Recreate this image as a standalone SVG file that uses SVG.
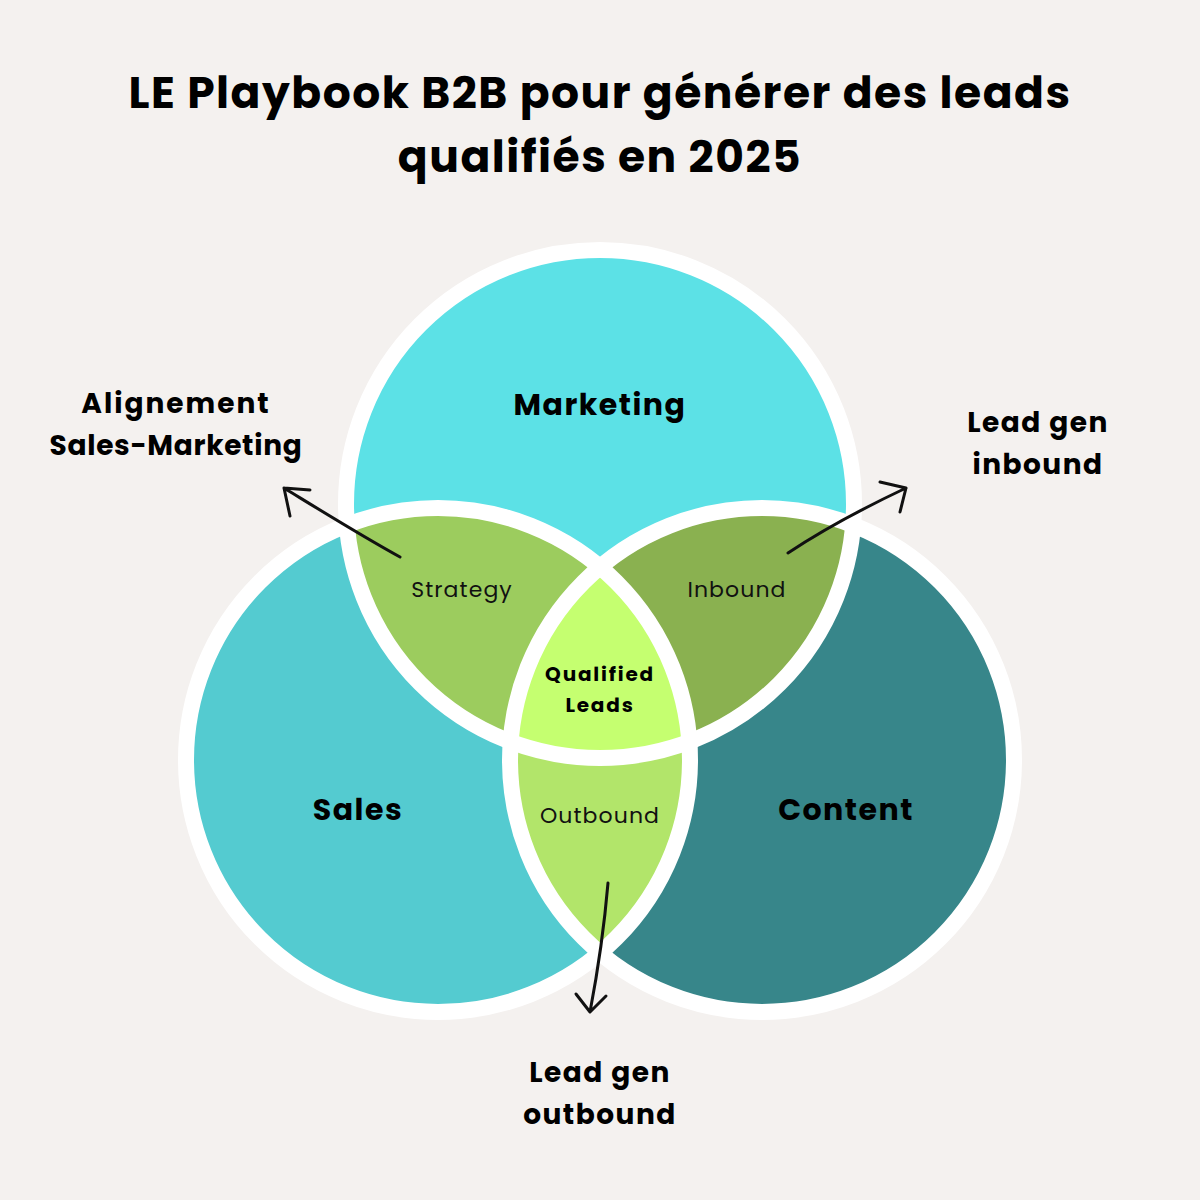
<svg xmlns="http://www.w3.org/2000/svg" width="1200" height="1200" viewBox="0 0 1200 1200">
<style>
.t{font-family:"Poppins","Open Sans","Liberation Sans",sans-serif;font-weight:700;fill:#000;text-anchor:middle;letter-spacing:1.5px}
.r{font-family:"Poppins","Open Sans","Liberation Sans",sans-serif;font-weight:400;fill:#111;text-anchor:middle;font-size:22px;letter-spacing:1.1px}
.ol{fill:none;stroke:#fff;stroke-width:16}
.ar{fill:none;stroke:#111;stroke-width:3;stroke-linecap:round;stroke-linejoin:round}
</style>
<defs>
<clipPath id="cm"><circle cx="600" cy="504" r="254"/></clipPath>
<clipPath id="cs"><circle cx="438" cy="760" r="252"/></clipPath>
<clipPath id="cc"><circle cx="762" cy="760" r="252"/></clipPath>
</defs>
<rect width="1200" height="1200" fill="#f4f1ef"/>
<text class="t" font-size="44" x="600" y="108">LE Playbook B2B pour générer des leads</text>
<text class="t" font-size="44" x="600" y="172">qualifiés en 2025</text>
<g id="sales"><circle cx="438" cy="760" r="252" fill="#54cbd0"/></g>
<g id="content"><circle cx="762" cy="760" r="252" fill="#37868a"/></g>
<g id="marketing"><circle cx="600" cy="504" r="254" fill="#5ce1e6"/></g>
<g id="strategy"><g clip-path="url(#cm)"><circle cx="438" cy="760" r="252" fill="#9ccc5e"/></g></g>
<g id="inbound"><g clip-path="url(#cm)"><circle cx="762" cy="760" r="252" fill="#8ab150"/></g></g>
<g id="outbound"><g clip-path="url(#cs)"><circle cx="762" cy="760" r="252" fill="#b2e56a"/></g></g>
<g id="qualified"><g clip-path="url(#cm)"><g clip-path="url(#cs)"><circle cx="762" cy="760" r="252" fill="#c5ff70"/></g></g></g>
<g id="outlines">
<circle class="ol" cx="438" cy="760" r="252"/>
<circle class="ol" cx="762" cy="760" r="252"/>
<circle class="ol" cx="600" cy="504" r="254"/>
</g>
<text class="t" font-size="30" x="600" y="415">Marketing</text>
<text class="t" font-size="30" x="358" y="820">Sales</text>
<text class="t" font-size="30" x="846" y="820">Content</text>
<text class="r" x="462" y="597">Strategy</text>
<text class="r" x="737" y="597">Inbound</text>
<text class="r" x="600" y="823">Outbound</text>
<text class="t" font-size="20" x="600" y="681" style="letter-spacing:1.8px">Qualified</text>
<text class="t" font-size="20" x="600" y="712" style="letter-spacing:1.8px">Leads</text>
<g id="connectors">
<path class="ar" d="M400 557 C360 535 320 510 284 488 M284 488 L290 516 M284 488 L310 490"/>
<path class="ar" d="M788 553 C830 525 870 505 906 488 M906 488 L880 482 M906 488 L900 512"/>
<path class="ar" d="M608 883 C604 930 598 970 590 1012 M590 1012 L576 994 M590 1012 L606 996"/>
</g>
<text class="t" font-size="28" x="176" y="413" style="letter-spacing:2px">Alignement</text>
<text class="t" font-size="28" x="176" y="455" style="letter-spacing:0.7px">Sales-Marketing</text>
<text class="t" font-size="28" x="1038" y="432">Lead gen</text>
<text class="t" font-size="28" x="1038" y="474">inbound</text>
<text class="t" font-size="28" x="600" y="1082">Lead gen</text>
<text class="t" font-size="28" x="600" y="1124">outbound</text>
</svg>
